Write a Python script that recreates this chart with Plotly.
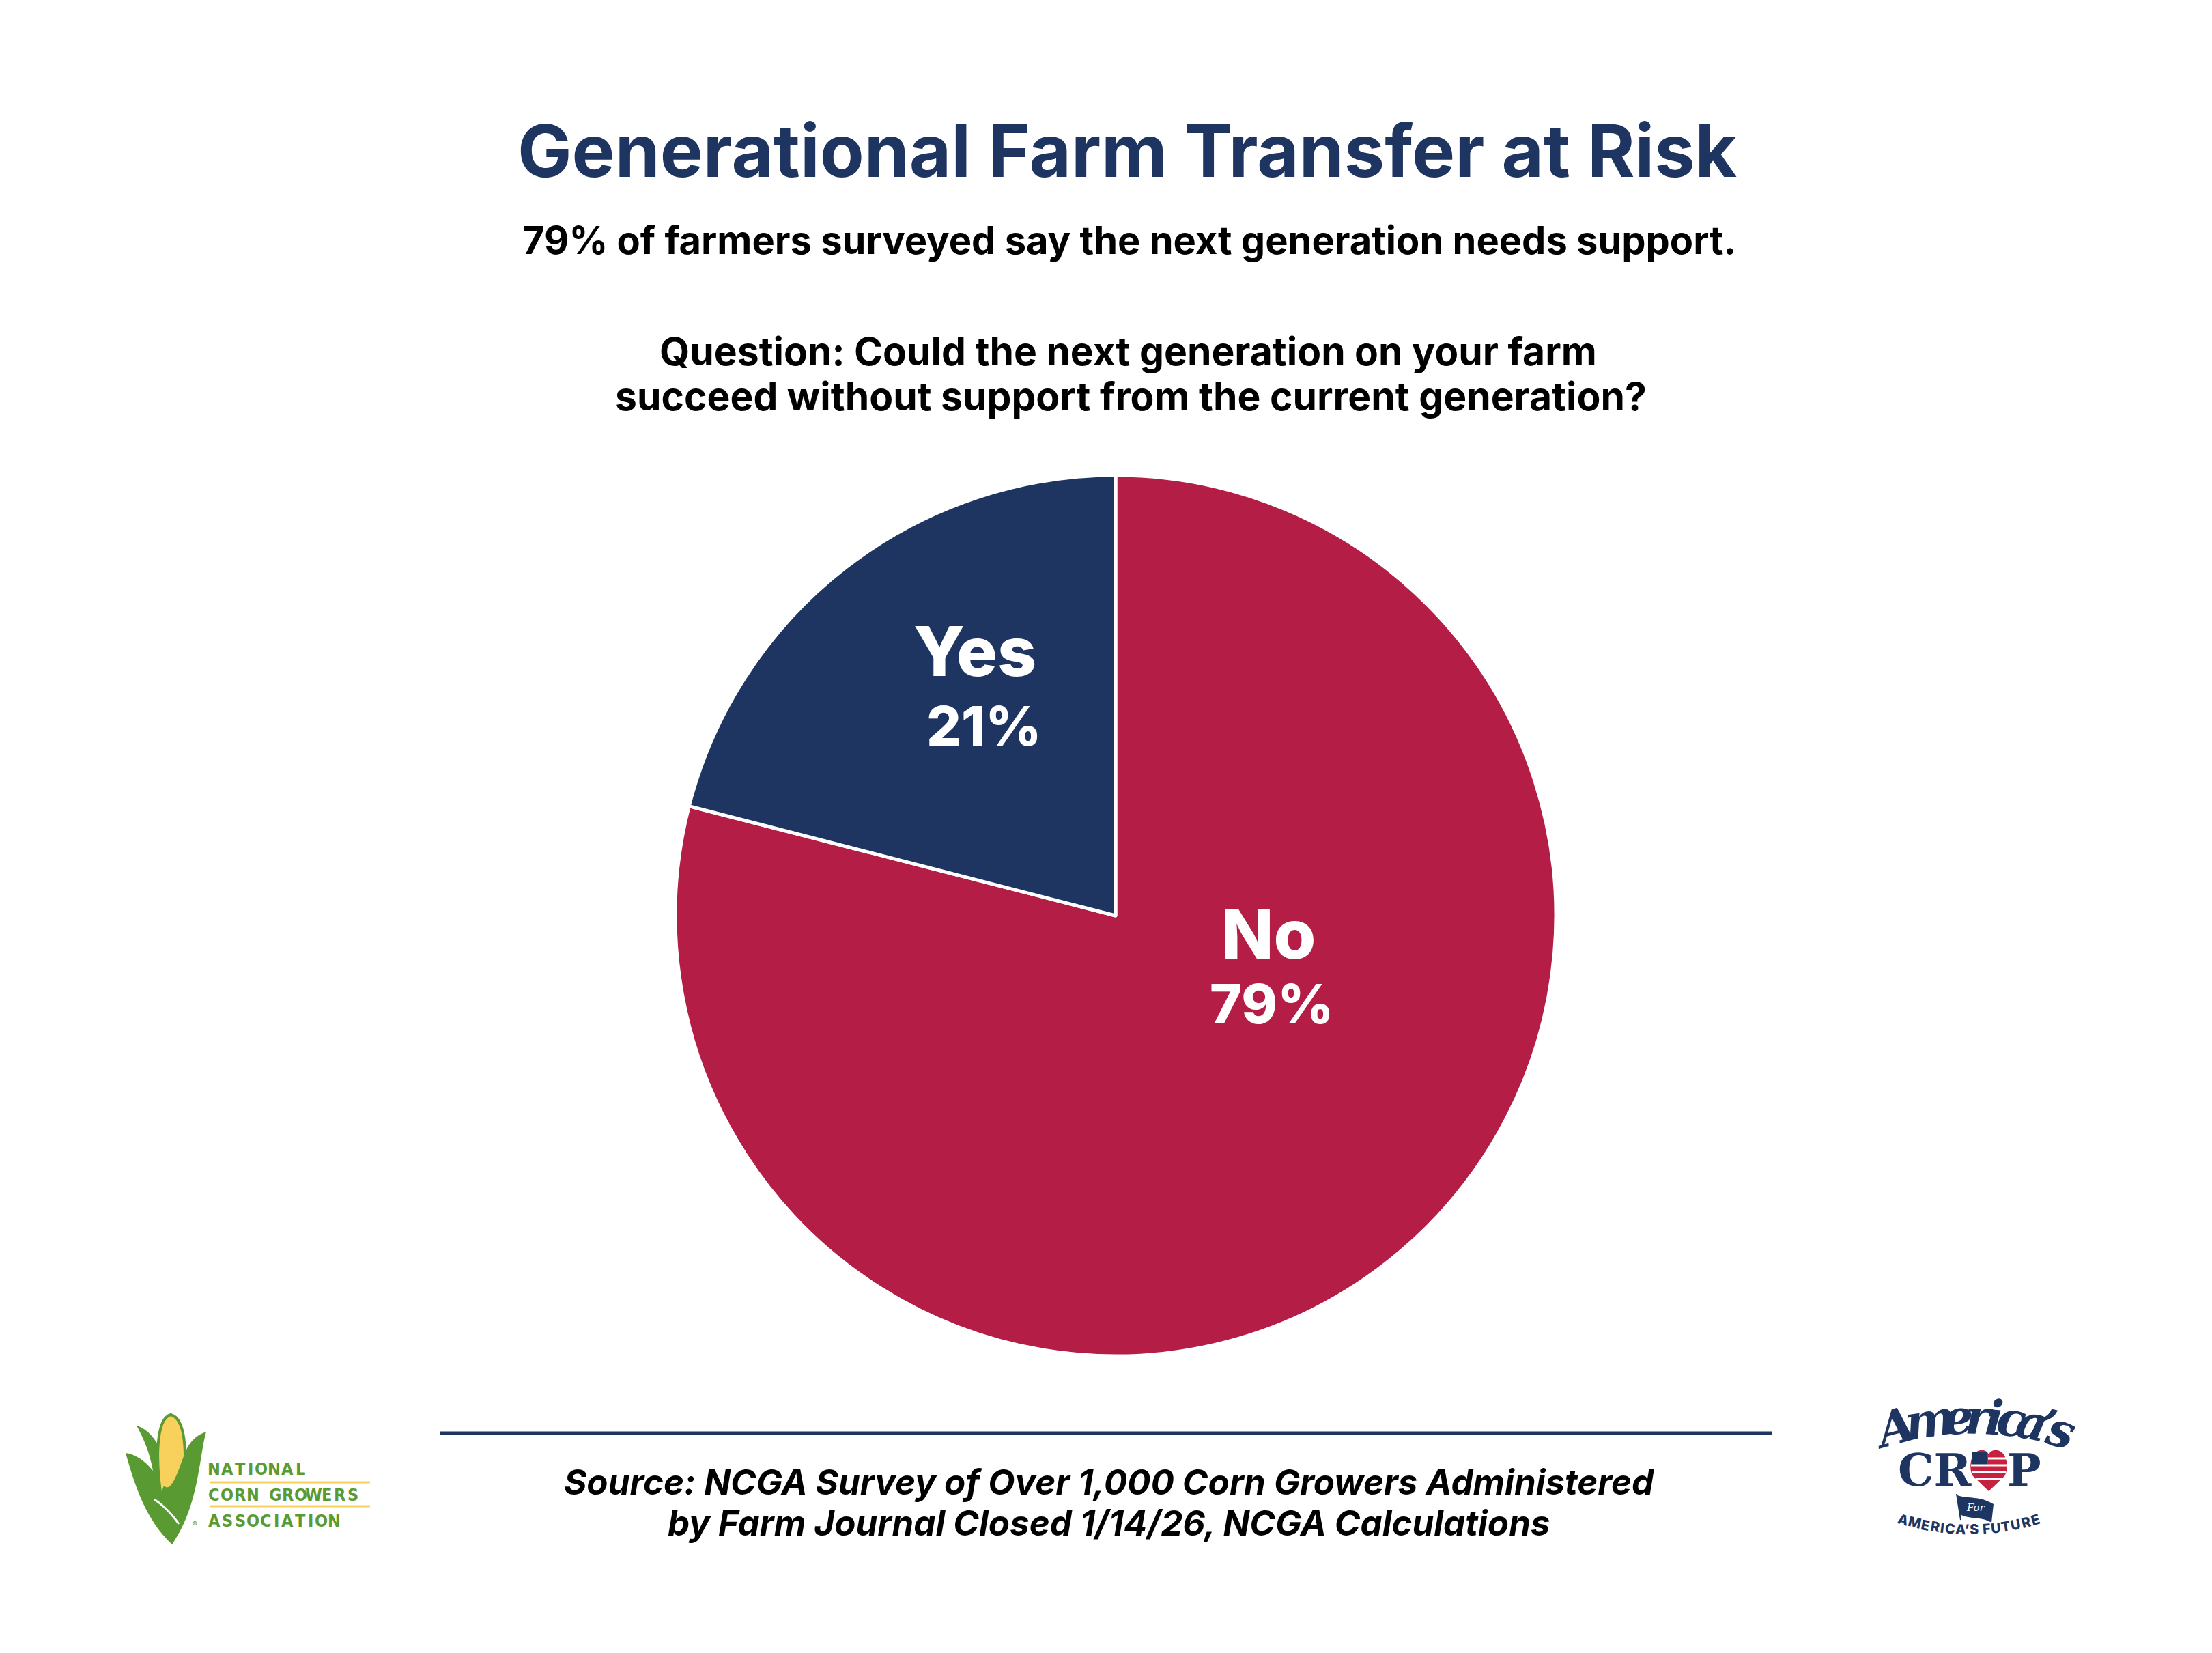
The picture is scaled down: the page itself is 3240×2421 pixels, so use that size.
import math
import plotly.graph_objects as go

W, H = 3240, 2421

# data
labels = ["No", "Yes"]
values = [79, 21]
slice_colors = ["#b41e46", "#1f3561"]

title = "Generational Farm Transfer at Risk"
subtitle = "79% of farmers surveyed say the next generation needs support."
question = ["Question: Could the next generation on your farm",
            "succeed without support from the current generation?"]
source = ["Source: NCGA Survey of Over 1,000 Corn Growers Administered",
          "by Farm Journal Closed 1/14/26, NCGA Calculations"]

NAVY = "#1f3561"
GREEN = "#5a9a32"
YELLOW = "#f8d15c"
FONT = "Inter, Roboto, sans-serif"

fig = go.Figure()

# pie, centred at (1634, 1341) px with radius ~641 px
cx, cy, r = 1634, 1341, 645
fig.add_trace(go.Pie(
    labels=labels, values=values, sort=False, direction="clockwise", rotation=0,
    marker=dict(colors=slice_colors, line=dict(color="white", width=5)),
    textinfo="none", hoverinfo="label+percent", showlegend=False,
    domain=dict(x=[(cx - r) / W, (cx + r) / W],
                y=[(H - cy - r) / H, (H - cy + r) / H]),
))

# invisible trace so that a pixel-like cartesian frame exists for the decorations
fig.add_trace(go.Scatter(x=[0], y=[0], mode="markers", marker=dict(opacity=0),
                         hoverinfo="skip", showlegend=False))

ann = []


def txt(x, y, s, size, color="black", weight=700, family=FONT, style="normal",
        xanchor="center", angle=0):
    ann.append(dict(x=x, y=y, xref="x", yref="y", text=s, showarrow=False,
                    xanchor=xanchor, yanchor="middle", textangle=angle,
                    font=dict(family=family, size=size, color=color,
                              weight=weight, style=style)))


txt(1651, 220, title, 106, color=NAVY)
txt(1654, 352, subtitle, 56)
txt(1652, 514, question[0], 57)
txt(1656, 580, question[1], 57)
txt(1624, 2170, source[0], 51, style="italic")
txt(1624, 2230, source[1], 51, style="italic")

# slice labels
label_pos = {"Yes": ((1428, 953), (1441, 1062)), "No": ((1858, 1367), (1863, 1469))}
for lab, val in zip(labels, values):
    (x1, y1), (x2, y2) = label_pos[lab]
    txt(x1, y1, lab, 100, color="white", weight=800)
    txt(x2, y2, f"{val}%", 80, color="white", weight=800)

shapes = [dict(type="line", xref="x", yref="y", x0=645, x1=2595, y0=2099, y1=2099,
               line=dict(color=NAVY, width=5))]

# --- NCGA logo (approximation) ---
shapes += [
    dict(type="path", xref="x", yref="y", fillcolor=GREEN, line=dict(width=0),
         path="M 252 2262 C 212 2225 196 2170 184 2128 C 199 2130 213 2140 224 2154 "
              "C 219 2126 210 2106 200 2088 C 224 2095 240 2125 248 2160 Z"),
    dict(type="path", xref="x", yref="y", fillcolor=YELLOW, line=dict(color=GREEN, width=4),
         path="M 250 2072 C 274 2078 276 2140 263 2205 L 238 2205 C 227 2140 228 2078 250 2072 Z"),
    dict(type="path", xref="x", yref="y", fillcolor=GREEN, line=dict(width=0),
         path="M 252 2262 C 236 2230 230 2200 240 2176 C 252 2188 262 2150 272 2125 "
              "C 280 2108 290 2101 302 2097 C 292 2130 292 2205 252 2262 Z"),
    dict(type="path", xref="x", yref="y", line=dict(color="white", width=3),
         path="M 226 2196 C 240 2205 250 2215 262 2232"),
    dict(type="line", xref="x", yref="y", x0=307, x1=542, y0=2171, y1=2171,
         line=dict(color=YELLOW, width=3)),
    dict(type="line", xref="x", yref="y", x0=307, x1=542, y0=2206, y1=2206,
         line=dict(color=YELLOW, width=3)),
]
NARROW = "Liberation Sans Narrow, DejaVu Sans Condensed, sans-serif"
for row, yy in [("NATIONAL", 2151), ("CORN GROWERS", 2189), ("ASSOCIATION", 2227)]:
    xpos = 307
    for ch in row:
        w = 12 if ch == "I" else (13 if ch == " " else 19)
        if ch != " ":
            txt(xpos + w / 2 - 3, yy, ch, 25, color=GREEN, family=NARROW)
        xpos += w
txt(285, 2232, "®", 10, color=GREEN, weight=400)


# --- America's Crop logo (approximation) ---
def arc_text(s, xc, yc, R, widths, size, family, style="normal", weight=700, smile=False):
    total = sum(widths)
    pos = -total / 2
    for ch, w in zip(s, widths):
        mid = pos + w / 2
        th = mid / R
        x = xc + R * math.sin(th)
        if smile:
            y = yc + R * math.cos(th)
            ang = -math.degrees(th)
        else:
            y = yc - R * math.cos(th)
            ang = math.degrees(th)
        txt(x, y, ch, size, color=NAVY, family=family, style=style, weight=weight, angle=ang)
        pos += w


script_word = "America’s"
arc_text(script_word, 2889, 2515, 440, [58, 50, 33, 27, 20, 29, 33, 13, 27], 70,
         "DejaVu Serif, serif", style="italic", weight=700)
fut = "AMERICA’S FUTURE"
arc_text(fut, 2884, 1905, 335, [16, 18, 14, 15, 7, 15, 15, 6, 13, 6, 13, 15, 14, 15, 15, 14], 20,
         FONT, smile=True, weight=800)

SERIF = "DejaVu Serif, serif"
txt(2834, 2153, "CR", 66, color=NAVY, family=SERIF, weight=700)
txt(2965, 2153, "P", 66, color=NAVY, family=SERIF, weight=700)
shapes += [
    dict(type="path", xref="x", yref="y", fillcolor="#c8203f", line=dict(width=0),
         path="M 2913 2184 L 2890 2162 C 2884 2154 2884 2128 2900 2124 C 2907 2123 2911 2126 2913 2130 "
              "C 2915 2126 2919 2123 2926 2124 C 2942 2128 2942 2154 2936 2162 Z"),
    dict(type="rect", xref="x", yref="y", x0=2888, x1=2911, y0=2126, y1=2146,
         fillcolor=NAVY, line=dict(width=0)),
]
for yy, xa, xb in [(2136, 2912, 2940), (2146, 2887, 2940), (2156, 2888, 2938), (2166, 2894, 2932)]:
    shapes.append(dict(type="line", xref="x", yref="y", x0=xa, x1=xb, y0=yy, y1=yy,
                       line=dict(color="white", width=3)))
shapes.append(dict(type="path", xref="x", yref="y", fillcolor=NAVY, line=dict(width=0),
                   path="M 2867 2190 C 2885 2196 2898 2190 2920 2203 L 2917 2230 "
                        "C 2900 2220 2885 2226 2871 2218 Z"))
shapes.append(dict(type="line", xref="x", yref="y", x0=2866, x1=2872, y0=2188, y1=2226,
                   line=dict(color=NAVY, width=2)))
txt(2894, 2208, "For", 15, color="white", family=SERIF, style="italic", weight=400)

fig.update_layout(
    width=W, height=H, margin=dict(l=0, r=0, t=0, b=0),
    paper_bgcolor="white", plot_bgcolor="rgba(0,0,0,0)",
    xaxis=dict(range=[0, W], visible=False, fixedrange=True, domain=[0, 1]),
    yaxis=dict(range=[H, 0], visible=False, fixedrange=True, domain=[0, 1]),
    annotations=ann, shapes=shapes,
)

# drop the browser's default body margin so the figure sits at the page corner
fig.write_html("out.html", config={"displayModeBar": False},
               post_script="document.body.style.margin='0';")
